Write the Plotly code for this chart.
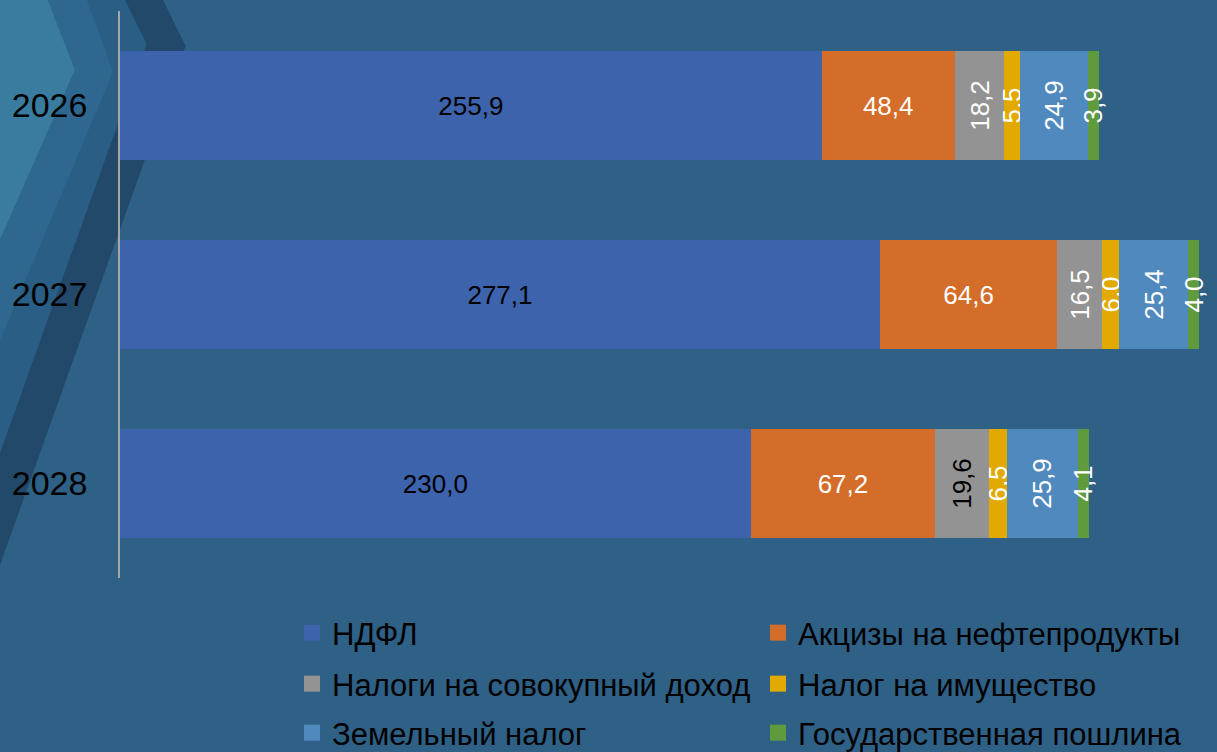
import plotly.graph_objects as go

# ---------------- data ----------------
years = ["2026", "2027", "2028"]
series_names = [
    "НДФЛ",
    "Акцизы на нефтепродукты",
    "Налоги на совокупный доход",
    "Налог на имущество",
    "Земельный налог",
    "Государственная пошлина",
]
ndfl = [255.9, 277.1, 230.0]
akcizy = [48.4, 64.6, 67.2]
sovokup = [18.2, 16.5, 19.6]
imushestvo = [5.5, 6.0, 6.5]
zemelny = [24.9, 25.4, 25.9]
gosposhlina = [3.9, 4.0, 4.1]

# ---------------- styles ----------------
W, H = 1217, 752
ML, MR, MT, MB = 120, 0, 11, 174
PW, PH = W - ML - MR, H - MT - MB

BG = "#2F6086"
colors = ["#3C63AC", "#D46D29", "#939393", "#E2AA00", "#4F89BE", "#5F9A3C"]
label_colors = [
    ["black"] * 3,
    ["white"] * 3,
    ["white", "white", "black"],
    ["white"] * 3,
    ["white"] * 3,
    ["white"] * 3,
]
angles = [0, 0, -90, -90, -90, -90]
legends = ["legend", "legend", "legend2", "legend2", "legend3", "legend3"]
FONT = "Arial, Liberation Sans, sans-serif"


def fmt(v):
    return f"{v:.1f}".replace(".", ",")


def px(x, y):
    return (x - ML) / PW, 1 - (y - MT) / PH


def path(points):
    pts = [px(x, y) for x, y in points]
    return "M" + " L".join(f"{a:.5f},{b:.5f}" for a, b in pts) + " Z"


fig = go.Figure()
all_series = [ndfl, akcizy, sovokup, imushestvo, zemelny, gosposhlina]
for i, (name, vals) in enumerate(zip(series_names, all_series)):
    fig.add_trace(
        go.Bar(
            y=years,
            x=vals,
            name=name,
            orientation="h",
            marker=dict(color=colors[i], line=dict(width=0)),
            text=[fmt(v) for v in vals],
            textposition="inside",
            insidetextanchor="middle",
            textangle=angles[i],
            constraintext="none",
            textfont=dict(color=label_colors[i], size=26, family=FONT),
            showlegend=False,
            hoverinfo="skip",
        )
    )

# legend entries with larger square swatches
for i, name in enumerate(series_names):
    fig.add_trace(
        go.Scatter(
            x=[None],
            y=[None],
            mode="markers",
            name=name,
            marker=dict(symbol="square", size=16, color=colors[i]),
            legend=legends[i],
            hoverinfo="skip",
        )
    )

# decorative background chevrons (pixel outlines)
light_edge = [(48, 0), (75, 70), (0, 240)]
band1_edge = [(87, 0), (113, 72), (0, 341)]
dark_left = [(125, 0), (146.5, 44), (0, 453)]
dark_right = [(163, 0), (185.6, 46), (0, 565)]


def band(inner, outer):
    return list(inner) + list(reversed(outer))


deco = [
    ([(0, 0)] + light_edge, "#3A7C9F"),
    (band(light_edge, band1_edge), "#2E6890"),
    (band(band1_edge, dark_left), "#2A5E85"),
    (band(dark_left, dark_right), "#23496A"),
]
shapes = [
    dict(type="path", xref="paper", yref="paper", path=path(p), fillcolor=c,
         line=dict(width=0), layer="below")
    for p, c in deco
]

leg_common = dict(
    orientation="h",
    xanchor="left",
    yanchor="middle",
    x=px(292, 0)[0],
    bgcolor="rgba(0,0,0,0)",
    font=dict(size=31, color="black", family=FONT),
    entrywidth=421,
    entrywidthmode="pixels",
    itemsizing="trace",
    traceorder="normal",
    itemclick=False,
    itemdoubleclick=False,
)

fig.update_layout(
    width=W,
    height=H,
    margin=dict(l=ML, r=MR, t=MT, b=MB, pad=0, autoexpand=False),
    paper_bgcolor=BG,
    plot_bgcolor="rgba(0,0,0,0)",
    barmode="stack",
    bargap=0.42,
    showlegend=True,
    shapes=shapes,
    font=dict(family=FONT),
    xaxis=dict(range=[0, 400], visible=False, showgrid=False, zeroline=False),
    yaxis=dict(
        type="category",
        range=[2.5, -0.5],
        showgrid=False,
        zeroline=False,
        showline=True,
        linecolor="#A6A6A6",
        linewidth=1.5,
        ticks="",
        ticklabelstandoff=24,
        tickfont=dict(size=34, color="black", family=FONT),
    ),
    legend=dict(leg_common, y=px(0, 633)[1]),
    legend2=dict(leg_common, y=px(0, 684)[1]),
    legend3=dict(leg_common, y=px(0, 733)[1]),
)

fig.write_html(
    "out.html",
    config={"displayModeBar": False},
    post_script="document.documentElement.style.margin='0';"
                "document.body.style.margin='0';"
                "document.body.style.overflow='hidden';",
)
